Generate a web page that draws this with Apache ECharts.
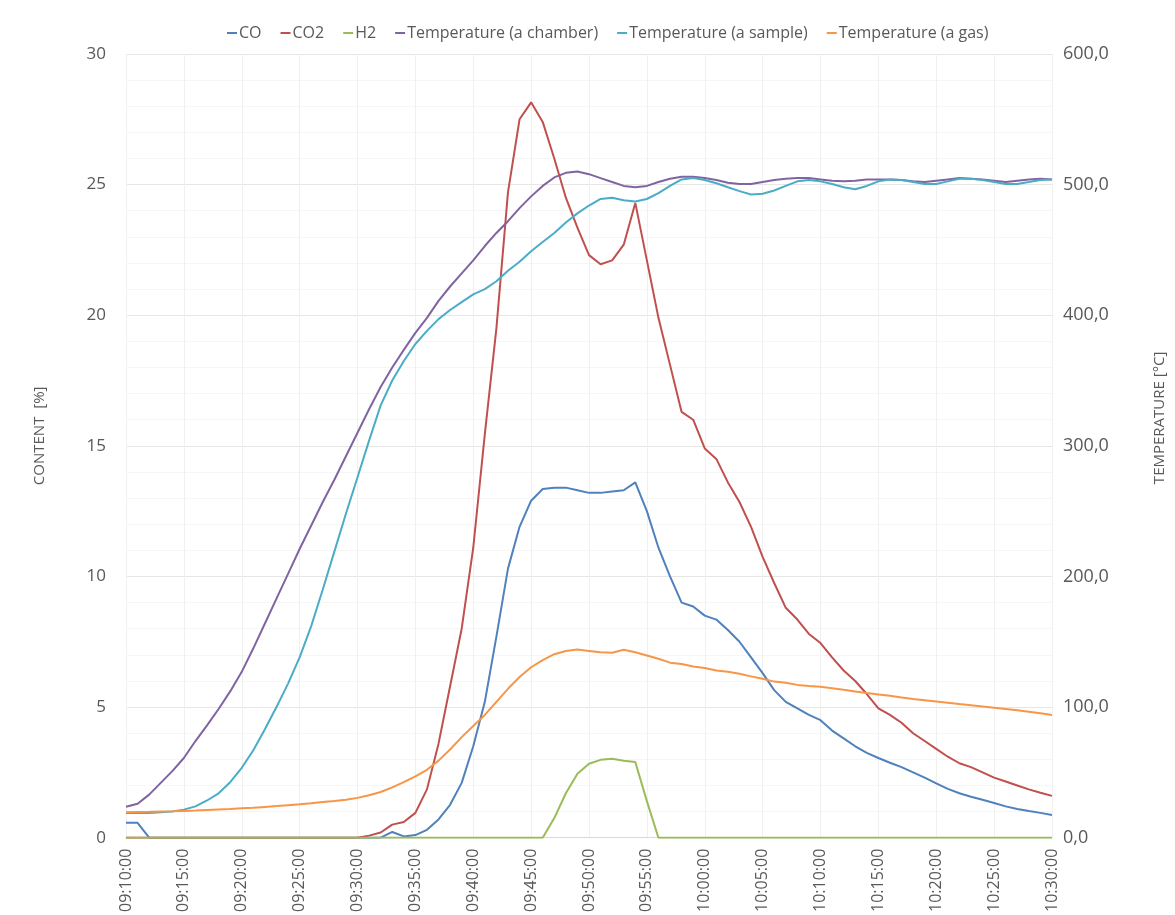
<!DOCTYPE html>
<html>
<head>
<meta charset="utf-8">
<script src="https://cdn.jsdelivr.net/npm/echarts@6/dist/echarts.min.js"></script>
<style>
  html, body {margin: 0; padding: 0; background: #fff;}
  #main {width: 1175px; height: 915px;}
</style>
</head>
<body>
<div id="main"></div>
<script>
// time axis: one reading per minute, 09:10:00 .. 10:30:00
var times = [];
for (var m = 0; m <= 80; m++) {
  var t = 9 * 60 + 10 + m;
  var hh = Math.floor(t / 60), mm = t % 60;
  times.push((hh < 10 ? '0' : '') + hh + ':' + (mm < 10 ? '0' : '') + mm + ':00');
}

// content [%]
var co = [0.57, 0.57,
  0, 0, 0, 0, 0, 0, 0, 0, 0, 0, 0, 0, 0, 0, 0, 0, 0, 0, 0, 0, 0,
  0.22, 0.05, 0.1, 0.3, 0.7, 1.26, 2.1, 3.5, 5.2, 7.7, 10.3, 11.9, 12.9, 13.35, 13.4, 13.4, 13.3, 13.2,
  13.2, 13.25, 13.3, 13.6, 12.5, 11.1, 10.0, 9.0, 8.85, 8.5, 8.35, 7.95, 7.5, 6.9, 6.3, 5.65, 5.2, 4.95,
  4.7, 4.5, 4.1, 3.8, 3.5, 3.25, 3.05, 2.87, 2.7, 2.5, 2.3, 2.08, 1.87, 1.7, 1.57, 1.45, 1.33, 1.2,
  1.1, 1.02, 0.95, 0.87];
var co2 = [0, 0, 0, 0, 0, 0, 0, 0, 0, 0, 0, 0, 0, 0, 0, 0, 0, 0, 0, 0, 0,
  0.08, 0.2, 0.5, 0.6, 0.95, 1.85, 3.6, 5.8, 8.0, 11.1, 15.45, 19.5, 24.7, 27.5, 28.15, 27.4, 26.0,
  24.5, 23.35, 22.3, 21.95, 22.1, 22.7, 24.3, 22.1, 19.9, 18.1, 16.3, 16.0, 14.9, 14.5, 13.6, 12.85,
  11.9, 10.75, 9.75, 8.8, 8.35, 7.8, 7.45, 6.9, 6.4, 6.0, 5.5, 4.95, 4.7, 4.4, 4.0, 3.7, 3.4, 3.1,
  2.85, 2.7, 2.5, 2.3, 2.15, 2.0, 1.85, 1.72, 1.6];
var h2 = [0, 0, 0, 0, 0, 0, 0, 0, 0, 0, 0, 0, 0, 0, 0, 0, 0, 0, 0, 0, 0, 0, 0, 0, 0, 0, 0, 0, 0, 0,
  0, 0, 0, 0, 0, 0, 0,
  0.75, 1.7, 2.45, 2.83, 2.98, 3.02, 2.95, 2.9, 1.4,
  0, 0, 0, 0, 0, 0, 0, 0, 0, 0, 0, 0, 0, 0, 0, 0, 0, 0, 0, 0, 0, 0, 0, 0, 0, 0, 0, 0, 0, 0, 0, 0, 0, 0, 0];

// temperature [°C]
var tChamber = [23.7, 26, 33, 42, 51, 61, 74, 86, 98.5, 112, 127, 145, 164, 183, 202, 221, 239, 257,
  274, 292, 310, 328, 345, 360, 373.5, 386.5, 398, 411, 422, 432, 442, 453, 463, 472, 482, 491, 499,
  505.5, 509, 510, 508, 505, 502, 499, 498, 499, 502, 504.5, 506, 506, 505, 503.5, 501.5, 500.5,
  500.5, 502, 503.5, 504.5, 505, 505, 504, 503, 502.5, 503, 504, 504, 504, 503.5, 502.5, 502, 503,
  504, 505, 504.5, 504, 503, 502, 503, 504, 504.5, 504];
var tSample = [19, 19, 19, 19.5, 20, 21.5, 24, 28.5, 34, 42.5, 53.5, 67, 83, 100, 118, 138, 162, 190,
  219, 248, 276, 304, 331, 350, 365, 378, 388, 397, 404, 410, 416, 420, 426, 434, 441, 449, 456, 463,
  471, 478, 484, 489, 490, 488, 487, 489, 493.5, 499, 504, 505, 503.5, 501, 498, 495, 492.5, 493,
  495.5, 499, 502.5, 503.6, 502.5, 500.5, 498, 496.5, 499, 502.5, 504, 503.5, 502, 500.5, 500.5,
  502.5, 504.5, 504.5, 503.5, 502, 500.5, 500.5, 502, 503.6, 504];
var tGas = [19.5, 19.7, 19.8, 20, 20.2, 20.5, 20.8, 21.2, 21.6, 22, 22.5, 23, 23.6, 24.2, 24.9, 25.6,
  26.4, 27.3, 28.1, 29, 30.5, 32.5, 35, 38.5, 42.5, 47, 52, 59, 67.5, 77, 85.5, 94, 104, 114, 123,
  130.5, 136, 140.5, 143, 144, 143, 142, 141.6, 143.9, 142, 139.5, 137, 134, 133, 131, 130, 128, 127,
  125.5, 123.5, 121.7, 119.5, 118.6, 117, 116.2, 115.5, 114.5, 113.2, 112, 110.8, 109.7, 108.6,
  107.4, 106.2, 105.3, 104.3, 103.3, 102.3, 101.4, 100.5, 99.5, 98.5, 97.5, 96.5, 95.3, 94];

var names = ['CO', 'CO2', 'H2', 'Temperature (a chamber)', 'Temperature (a sample)', 'Temperature (a gas)'];
var colors = ['#4F81BD', '#C0504D', '#9BBB59', '#8064A2', '#4BACC6', '#F79646'];
var seriesData = [co, co2, h2, tChamber, tSample, tGas];

var txt = '#595959';
var font = 'Open Sans';

var chart = echarts.init(document.getElementById('main'));
chart.setOption({
  animation: false,
  color: colors,
  textStyle: {fontFamily: font},
  legend: {
    top: 20, left: 222,
    icon: 'rect', itemWidth: 10, itemHeight: 2, itemGap: 19,
    textStyle: {color: txt, fontSize: 16, fontFamily: font, padding: [0, 0, 0, -3]},
    data: names
  },
  grid: {left: 126, right: 115, top: 54, bottom: 77},
  xAxis: {
    type: 'category', boundaryGap: false, data: times,
    axisLine: {lineStyle: {color: '#d9d9d9'}},
    axisTick: {show: false},
    axisLabel: {interval: 4, rotate: 90, color: txt, fontSize: 16, margin: 11},
    splitLine: {show: true, interval: 4, lineStyle: {color: '#f0f0f0'}}
  },
  yAxis: [{
    type: 'value', min: 0, max: 30, interval: 5,
    name: 'CONTENT  [%]', nameLocation: 'middle', nameGap: 79, nameRotate: 90,
    nameTextStyle: {color: txt, fontSize: 15, padding: [0, 0, 0, 20]},
    axisLine: {show: false}, axisTick: {show: false},
    axisLabel: {color: txt, fontSize: 17, margin: 20},
    splitLine: {lineStyle: {color: '#e6e6e6'}},
    minorTick: {show: false, splitNumber: 5},
    minorSplitLine: {show: true, lineStyle: {color: '#f6f6f6'}}
  }, {
    type: 'value', min: 0, max: 600, interval: 100,
    name: 'TEMPERATURE [°C]', nameLocation: 'middle', nameGap: 100, nameRotate: 90,
    nameTextStyle: {color: txt, fontSize: 15, padding: [0, 0, 0, 56]},
    axisLine: {show: false}, axisTick: {show: false},
    axisLabel: {color: txt, fontSize: 18, margin: 11,
      formatter: function (v) { return v.toFixed(1).replace('.', ','); }},
    splitLine: {show: false}
  }],
  series: seriesData.map(function (d, i) {
    return {
      name: names[i], type: 'line', data: d,
      yAxisIndex: i < 3 ? 0 : 1,
      showSymbol: false, symbol: 'none',
      lineStyle: {width: 2, color: colors[i]},
      itemStyle: {color: colors[i]}
    };
  })
});
</script>
</body>
</html>
